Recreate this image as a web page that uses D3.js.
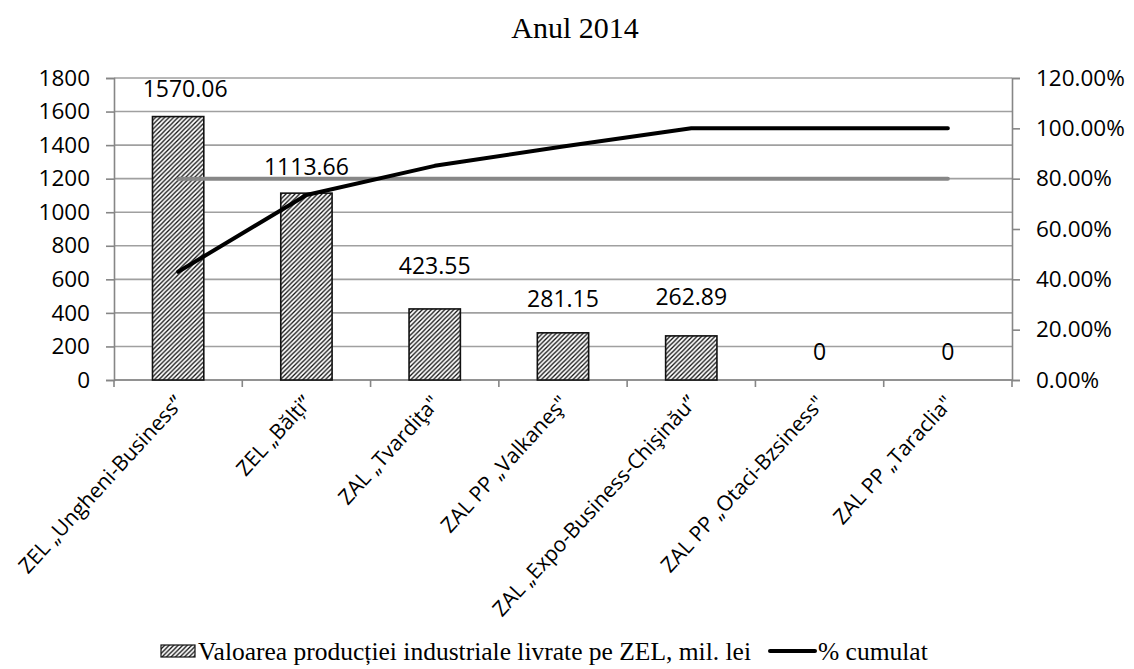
<!DOCTYPE html>
<html>
<head>
<meta charset="utf-8">
<script src="https://cdn.jsdelivr.net/npm/d3@7"></script>
<style>
	body { margin: 0; background: #fff; }
	svg text { fill: #000; }
	.tick-lbl { font-family: 'Open Sans', sans-serif; font-size: 22px; }
	.serif { font-family: 'Liberation Serif', 'Times New Roman', serif; }
</style>
</head>
<body>
<div id="chart"></div>
<script>
// values
var zones = ['ZEL \u201EUngheni-Business\u201D', 'ZEL \u201EB\u0103l\u021Bi\u201D', 'ZAL \u201ETvardi\u0163a"',
	'ZAL PP \u201EValkane\u015F"', 'ZAL \u201EExpo-Business-Chi\u015Fin\u0103u\u201D', 'ZAL PP \u201EOtaci-Bzsiness"', 'ZAL PP \u201ETaraclia"'];
var production = [1570.06, 1113.66, 423.55, 281.15, 262.89, 0, 0];
var cumulPct = [0.43, 0.735, 0.851, 0.928, 1.0, 1.0, 1.0];
var pareto80 = [0.8, 0.8, 0.8, 0.8, 0.8, 0.8, 0.8];
var leftTicks = [0, 200, 400, 600, 800, 1000, 1200, 1400, 1600, 1800];
var rightTicks = [0, 0.2, 0.4, 0.6, 0.8, 1.0, 1.2];
var labelLift = [28, 26, 43, 34, 39, 28, 28]; // labels were nudged by hand in the original

var W = 1134, H = 669;
var margin = {top: 78, left: 114, right: 122, bottom: 289};
var width = W - margin.left - margin.right,
	height = H - margin.top - margin.bottom;

var svg = d3.select('#chart').append('svg')
	.attr('width', W).attr('height', H);

var defs = svg.append('defs');
var pat = defs.append('pattern')
	.attr('id', 'hatch')
	.attr('patternUnits', 'userSpaceOnUse')
	.attr('width', 4.5).attr('height', 4.5);
pat.append('rect').attr('width', 4.5).attr('height', 4.5).attr('fill', '#fff');
pat.append('path')
	.attr('d', 'M-1,1 l2,-2 M0,4.5 l4.5,-4.5 M3.5,5.5 l2,-2')
	.attr('stroke', '#111').attr('stroke-width', 1.3);

var g = svg.append('g').attr('transform', 'translate(' + margin.left + ',' + margin.top + ')');

var x = d3.scaleBand().domain(zones).range([0, width]).paddingInner(0.6).paddingOuter(0.3);
var xc = d3.scalePoint().domain(zones).range([0, width]).padding(0.5);
var y = d3.scaleLinear().domain([0, 1800]).range([height, 0]);
var y2 = d3.scaleLinear().domain([0, 1.2]).range([height, 0]);

// gridlines
g.append('g').selectAll('line').data(leftTicks).join('line')
	.attr('x1', 0).attr('x2', width)
	.attr('y1', d => y(d)).attr('y2', d => y(d))
	.attr('stroke', '#a0a0a0').attr('stroke-width', 1.6);

// left axis
var yAxis = g.append('g')
	.call(d3.axisLeft(y).tickValues(leftTicks).tickSize(8).tickPadding(16).tickFormat(d3.format('d')));
// right axis
var y2Axis = g.append('g')
	.attr('transform', 'translate(' + width + ',0)')
	.call(d3.axisRight(y2).tickValues(rightTicks).tickSize(8).tickPadding(16).tickFormat(d3.format('.2%')));

[yAxis, y2Axis].forEach(function(a){
	a.select('.domain').attr('stroke', '#868686').attr('stroke-width', 1.6);
	a.selectAll('.tick line').attr('stroke', '#868686').attr('stroke-width', 1.6);
	a.selectAll('text').style('font-family', "'Open Sans', sans-serif").style('font-size', '22.5px').style('fill', '#000');
});

// bottom axis
var step = width / zones.length;
g.append('line')
	.attr('x1', 0).attr('x2', width).attr('y1', height).attr('y2', height)
	.attr('stroke', '#868686').attr('stroke-width', 1.6);
g.append('g').selectAll('line').data(d3.range(zones.length + 1)).join('line')
	.attr('x1', d => d * step).attr('x2', d => d * step)
	.attr('y1', height).attr('y2', height + 7)
	.attr('stroke', '#868686').attr('stroke-width', 1.6);

// bars
g.append('g').selectAll('rect').data(production).join('rect')
	.attr('x', (d, i) => x(zones[i]))
	.attr('width', x.bandwidth())
	.attr('y', d => y(d))
	.attr('height', d => height - y(d))
	.attr('fill', 'url(#hatch)')
	.attr('stroke', d => d > 0 ? '#111' : 'none')
	.attr('stroke-width', 1.6);

// 80% line
var line = d3.line().x((d, i) => xc(zones[i])).y(d => y2(d));
g.append('path').datum(pareto80)
	.attr('d', line).attr('fill', 'none')
	.attr('stroke', '#878787').attr('stroke-width', 4).attr('stroke-linecap', 'round');

// cumulative %
g.append('path').datum(cumulPct)
	.attr('d', line).attr('fill', 'none')
	.attr('stroke', '#000').attr('stroke-width', 4)
	.attr('stroke-linecap', 'round').attr('stroke-linejoin', 'round');

// data labels
g.append('g').selectAll('text').data(production).join('text')
	.attr('class', 'tick-lbl')
	.attr('x', (d, i) => xc(zones[i]) + (i === 0 ? 7 : 0))
	.attr('y', (d, i) => y(d) - labelLift[i])
	.attr('dy', '0.35em')
	.attr('text-anchor', 'middle')
	.style('font-size', '23px')
	.text(d => d === 0 ? '0' : d3.format('.2f')(d));

// category labels
g.append('g').selectAll('text').data(zones).join('text')
	.attr('class', 'tick-lbl')
	.attr('transform', d => 'translate(' + (xc(d) + 1) + ',' + (height + 19) + ') rotate(-47.5)')
	.attr('text-anchor', 'end')
	.attr('dy', '0.35em')
	.style('font-size', '21px')
	.text(d => d);

// title
svg.append('text').attr('class', 'serif')
	.attr('x', 575).attr('y', 38)
	.attr('text-anchor', 'middle')
	.style('font-size', '30px')
	.text('Anul 2014');

// legend
var leg = svg.append('g').attr('class', 'serif').style('font-size', '25.5px');
leg.append('rect')
	.attr('x', 161).attr('y', 645).attr('width', 34).attr('height', 12)
	.attr('fill', 'url(#hatch)').attr('stroke', '#111').attr('stroke-width', 1.2);
leg.append('text').attr('x', 198).attr('y', 660)
	.text('Valoarea produc\u021Biei industriale livrate pe ZEL, mil. lei');
leg.append('line')
	.attr('x1', 770).attr('x2', 815).attr('y1', 651).attr('y2', 651)
	.attr('stroke', '#000').attr('stroke-width', 4).attr('stroke-linecap', 'round');
leg.append('text').attr('x', 818).attr('y', 660).text('% cumulat');
</script>
</body>
</html>
